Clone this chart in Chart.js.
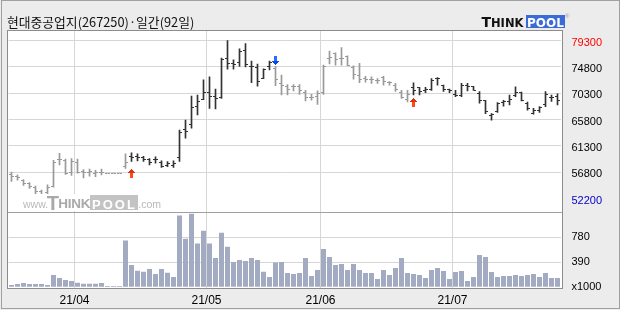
<!DOCTYPE html>
<html><head><meta charset="utf-8">
<script src="https://cdn.jsdelivr.net/npm/chart.js@4.4.0/dist/chart.umd.min.js"></script>
<style>
html,body{margin:0;padding:0;background:#ececec;}
#wrap{position:relative;width:620px;height:310px;overflow:hidden;background:#ececec;}
#outer{position:absolute;left:1px;top:0;width:617px;height:307px;border:1px solid #a0a0a0;}
#c{position:absolute;left:0;top:0;}
.abs{position:absolute;white-space:nowrap;}
#title{left:7px;top:13.8px;font:12.8px/16px "Noto Sans CJK KR";color:#111;}
.lg{font-family:"DejaVu Sans";font-weight:bold;color:#111;}
#wm{position:absolute;left:22px;top:194px;width:142px;height:17px;background:#fff;}
.wmt{position:absolute;white-space:nowrap;font-family:"Liberation Sans";}
</style></head>
<body>
<div id="wrap">
  <div id="outer"></div>
  <canvas id="c" width="620" height="310"></canvas>
  <div id="title" class="abs">현대중공업지(267250)·일간(92일)</div>
  <div class="abs lg" style="left:481.5px;top:15.4px;font-size:14px;line-height:14px;">T</div>
  <div class="abs lg" style="left:491px;top:17.6px;font-size:11.5px;line-height:11.5px;">HINK</div>
  <div class="abs" style="left:526px;top:15px;width:38.5px;height:12.5px;background:#3a6bd6;"></div>
  <div class="abs lg" style="left:527px;top:17.2px;font-size:12px;line-height:12px;color:#fff;">POOL</div>
  <div class="abs" style="left:565px;top:13px;font:6px/6px 'Liberation Sans';color:#999;">®</div>
  <div id="wm">
    <span class="wmt" style="left:1px;top:5.4px;font-size:10.5px;line-height:10.5px;color:#b9b9b9;">www.</span>
    <span class="wmt" style="left:24.7px;top:-0.9px;font-size:20px;line-height:20px;font-weight:bold;color:#a9a9a9;">T</span>
    <span class="wmt" style="left:36.3px;top:2.9px;font-size:13.5px;line-height:13.5px;font-weight:bold;color:#a9a9a9;letter-spacing:-0.3px;">HINK</span>
    <span class="wmt" style="left:68px;top:1px;width:48px;height:15px;background:#c3c3c3;"></span>
    <span class="wmt" style="left:70px;top:3.5px;font-size:13px;line-height:13px;font-weight:bold;color:#fff;letter-spacing:2px;">POOL</span>
    <span class="wmt" style="left:116.3px;top:5.4px;font-size:10.5px;line-height:10.5px;color:#b9b9b9;">.com</span>
  </div>
</div>
<script>
const dates = [
 '2021-03-17','2021-03-18','2021-03-19','2021-03-22','2021-03-23','2021-03-24','2021-03-25','2021-03-26','2021-03-29','2021-03-30','2021-03-31',
 '2021-04-01','2021-04-02','2021-04-05','2021-04-06','2021-04-07','2021-04-08','2021-04-09','2021-04-12','2021-04-13','2021-04-14','2021-04-15','2021-04-16','2021-04-19','2021-04-20','2021-04-21','2021-04-22','2021-04-23','2021-04-26','2021-04-27','2021-04-28','2021-04-29','2021-04-30',
 '2021-05-03','2021-05-04','2021-05-06','2021-05-07','2021-05-10','2021-05-11','2021-05-12','2021-05-13','2021-05-14','2021-05-17','2021-05-18','2021-05-20','2021-05-21','2021-05-24','2021-05-25','2021-05-26','2021-05-27','2021-05-28','2021-05-31',
 '2021-06-01','2021-06-02','2021-06-03','2021-06-04','2021-06-07','2021-06-08','2021-06-09','2021-06-10','2021-06-11','2021-06-14','2021-06-15','2021-06-16','2021-06-17','2021-06-18','2021-06-21','2021-06-22','2021-06-23','2021-06-24','2021-06-25','2021-06-28','2021-06-29','2021-06-30',
 '2021-07-01','2021-07-02','2021-07-05','2021-07-06','2021-07-07','2021-07-08','2021-07-09','2021-07-12','2021-07-13','2021-07-14','2021-07-15','2021-07-16','2021-07-19','2021-07-20','2021-07-21','2021-07-22','2021-07-23','2021-07-26'
];
const openP = [56300,56000,55300,54800,54200,53400,53300,54300,58900,58800,56700,58500,56900,56700,56600,56800,56600,56600,56600,57700,
 59500,59400,59300,58900,59000,58500,58000,58000,59300,64000,65000,68000,69300,70400,69800,69600,76200,75400,75600,77700,
 74800,74700,72900,74900,74600,71900,71400,71500,71500,70400,69600,69800,70500,76300,77100,76200,76600,74700,73300,72900,
 72700,72400,73000,72100,71700,70500,69200,71300,71200,70800,70900,72800,71600,70900,70000,69900,71600,71500,70300,69000,
 66500,67100,68700,68800,69900,70400,68500,66900,67400,68300,69600,69800];
const highP = [56800,56300,55500,55000,54400,53700,54600,58800,60000,59000,59100,59000,57200,57300,57100,57300,56600,56600,56600,59900,
 60100,59900,59500,59100,59400,58700,58600,58700,64000,65700,69800,70000,72600,73100,71000,76300,79300,76000,77900,78800,
 75800,75300,74500,75800,74900,73400,71800,71800,71800,70800,70100,70700,75100,77500,77200,78100,76700,75000,75400,73200,
 73100,72800,73200,72300,72000,70800,70800,72100,71300,71300,72800,73000,71700,71000,70800,72000,72000,71500,70600,69100,
 66800,68700,69100,70000,71400,70500,68800,67700,68000,70600,70000,70200];
const lowP = [55200,55400,54500,54000,53000,52200,52800,54200,58000,56400,56200,56600,55800,56100,56000,56300,56600,56600,56600,57400,
 58600,58700,58600,58000,58300,57600,57700,57600,58600,62600,64300,66600,69200,67700,67600,69400,74400,74400,74900,74800,
 72100,71500,72800,74300,71600,70000,70000,70700,70100,69000,69100,68400,70100,75300,75100,75100,75000,72700,72100,72200,
 72000,72000,71700,71700,70600,69400,68800,70000,70000,70400,70800,71700,70600,70400,69700,69700,70700,70800,68600,66800,
 65700,67000,68100,68300,69700,69000,67400,66700,67000,68000,68900,68300];
const closeP = [56000,55900,54800,54300,53500,52800,54100,58400,59000,56600,58600,56700,56800,56900,56800,56700,56600,56600,56600,58500,
 59300,59300,58900,58400,59000,57800,58200,58300,63600,63800,67900,68800,70400,69700,69400,76000,75400,75200,77500,75200,
 74900,72300,74400,75600,72600,71700,71000,71500,70800,69600,69500,70200,74800,76400,76100,76200,75100,73500,72700,72700,
 72700,72400,72300,72100,70900,69600,70100,70800,70600,70900,72400,72800,70900,70800,69900,71700,71500,70800,69000,67100,
 66600,68500,68900,69300,70500,69000,67600,67300,67800,70100,69500,69000];
const volume = [36,51,67,51,51,51,36,192,145,114,98,72,56,56,56,67,20,20,20,727,
 348,259,244,285,207,285,228,161,1117,753,1143,681,878,681,457,847,629,395,426,410,
 457,426,244,161,384,395,223,207,223,457,176,270,597,473,348,364,270,364,270,223,
 223,129,270,192,301,457,223,207,192,145,270,301,254,129,239,254,98,161,504,473,
 239,161,176,176,192,176,192,207,161,223,145,145];
const priceTicks = [79300,74800,70300,65800,61300,56800,52200];
const volumeTicks = [0,390,780];
const buyIdx = [20,67], buyTip = [57400,69400];
const sellIdx = [44], sellTip = [75100];

const GRAY = '#999999', DARK = '#333333', GRID = '#d6d6d6';
const trendDark = dates.map((d,i) => {
  let dark = false;
  buyIdx.forEach(b => { if (b <= i) { const lastSell = sellIdx.filter(s => s <= i && s > b).length; if (!lastSell) dark = true; } });
  sellIdx.forEach(s => { if (s <= i && !buyIdx.some(b => b > s && b <= i)) dark = false; });
  return dark;
});
const monthStart = i => i > 0 && i < dates.length && dates[i].slice(5,7) !== dates[i-1].slice(5,7);
const xLabel = i => monthStart(i) ? dates[i].slice(2,4) + '/' + dates[i].slice(5,7) : '';

function mk(w,h,fn){ const c=document.createElement('canvas'); c.width=w; c.height=h; fn(c.getContext('2d')); return c; }
const tickL = col => mk(7,1,g=>{g.fillStyle=col; g.fillRect(1,0,2,1);});
const tickR = col => mk(7,1,g=>{g.fillStyle=col; g.fillRect(4,0,2,1);});
const oG = tickL(GRAY), oD = tickL(DARK), cG = tickR(GRAY), cD = tickR(DARK);
const upArrow = mk(7,20,g=>{
  g.fillStyle='#e0300c';
  g.fillRect(3,10,1,1); g.fillRect(2,11,3,1); g.fillRect(1,12,5,1); g.fillRect(0,13,7,1);
  g.fillStyle='#ff4a14'; g.fillRect(2,14,3,5);
});
const downArrow = mk(7,20,g=>{
  g.fillStyle='#2a6cff'; g.fillRect(2,1,3,5);
  g.fillStyle='#0a4ae0';
  g.fillRect(0,6,7,1); g.fillRect(1,7,5,1); g.fillRect(2,8,3,1); g.fillRect(3,9,1,1);
});

const framePlugin = {
  id:'frame',
  beforeDraw(ch){ const c=ch.ctx; c.save(); c.fillStyle='#fff'; c.fillRect(8,31,554,257); c.restore(); },
  beforeDatasetsDraw(ch){ ch.ctx.imageSmoothingEnabled=false; },
  afterDatasetsDraw(ch){ ch.ctx.imageSmoothingEnabled=true; },
  afterDraw(ch){
    const c=ch.ctx, yb=Math.round(ch.scales.y.bottom)+0.5;
    c.save(); c.lineWidth=1;
    c.strokeStyle='#a0a0a0'; c.beginPath(); c.moveTo(8,yb); c.lineTo(562,yb); c.stroke();
    c.strokeStyle='#8c8c8c'; c.strokeRect(7.5,30.5,555,258);
    c.restore();
  }
};

Chart.defaults.font.family = 'Liberation Sans';
Chart.defaults.font.size = 11;
Chart.defaults.color = '#000';

new Chart(document.getElementById('c'), {
  data: {
    labels: dates,
    datasets: [
      { type:'bar', data: volume, yAxisID:'yv', backgroundColor:'#a3abc3', grouped:false, barPercentage:5/6, categoryPercentage:1 },
      { type:'bar', data: dates.map((d,i)=>[lowP[i],highP[i]]), yAxisID:'y', grouped:false, maxBarThickness:1, barPercentage:1, categoryPercentage:1,
        backgroundColor: ctx => trendDark[ctx.dataIndex] ? DARK : GRAY },
      { type:'line', data: openP, yAxisID:'y', showLine:false, pointRadius:1, pointStyle: ctx => trendDark[ctx.dataIndex] ? oD : oG },
      { type:'line', data: closeP, yAxisID:'y', showLine:false, pointRadius:1, pointStyle: ctx => trendDark[ctx.dataIndex] ? cD : cG },
      { type:'line', data: buyIdx.map((i,k)=>({x:dates[i], y:buyTip[k]})), yAxisID:'y', showLine:false, pointRadius:1, pointStyle: upArrow },
      { type:'line', data: sellIdx.map((i,k)=>({x:dates[i], y:sellTip[k]})), yAxisID:'y', showLine:false, pointRadius:1, pointStyle: downArrow }
    ]
  },
  options: {
    responsive:false, animation:false, devicePixelRatio:1, events:[],
    layout:{ padding:{ left:8.5, top:31, right:0, bottom:0 } },
    plugins:{ legend:{display:false}, tooltip:{enabled:false} },
    scales:{
      x:{ type:'category', offset:true, border:{display:false},
          grid:{ offset:true, drawTicks:false, color: ctx => monthStart(ctx.index) ? GRID : 'rgba(0,0,0,0)' },
          ticks:{ autoSkip:false, maxRotation:0, minRotation:0, labelOffset:-3, padding:5, font:{size:12}, callback:(v,i)=>xLabel(i) },
          afterFit: s => { s.height = 22; } },
      y:{ type:'linear', position:'right', stack:'panels', stackWeight:181, min:49950, max:80960,
          border:{display:false},
          grid:{ drawTicks:false, color: ctx => ctx.tick && ctx.tick.value === 52200 ? 'rgba(0,0,0,0)' : GRID },
          ticks:{ padding:11, labelOffset:2, callback: v => String(v),
                  color: ctx => ctx.tick.value === 79300 ? '#ff0000' : (ctx.tick.value === 52200 ? '#0000cc' : '#000') },
          afterBuildTicks: s => { s.ticks = priceTicks.map(v => ({value:v})); },
          afterFit: s => { s.width = 59.5; } },
      yv:{ type:'linear', position:'right', stack:'panels', stackWeight:76, min:-10, max:1170,
          border:{display:false},
          grid:{ drawTicks:false, color: ctx => ctx.tick && ctx.tick.value === 0 ? 'rgba(0,0,0,0)' : GRID },
          ticks:{ padding:11, callback: v => v === 0 ? 'x1000' : String(v) },
          afterBuildTicks: s => { s.ticks = volumeTicks.map(v => ({value:v})); },
          afterFit: s => { s.width = 59.5; } }
    }
  },
  plugins:[framePlugin]
});
</script>
</body></html>
